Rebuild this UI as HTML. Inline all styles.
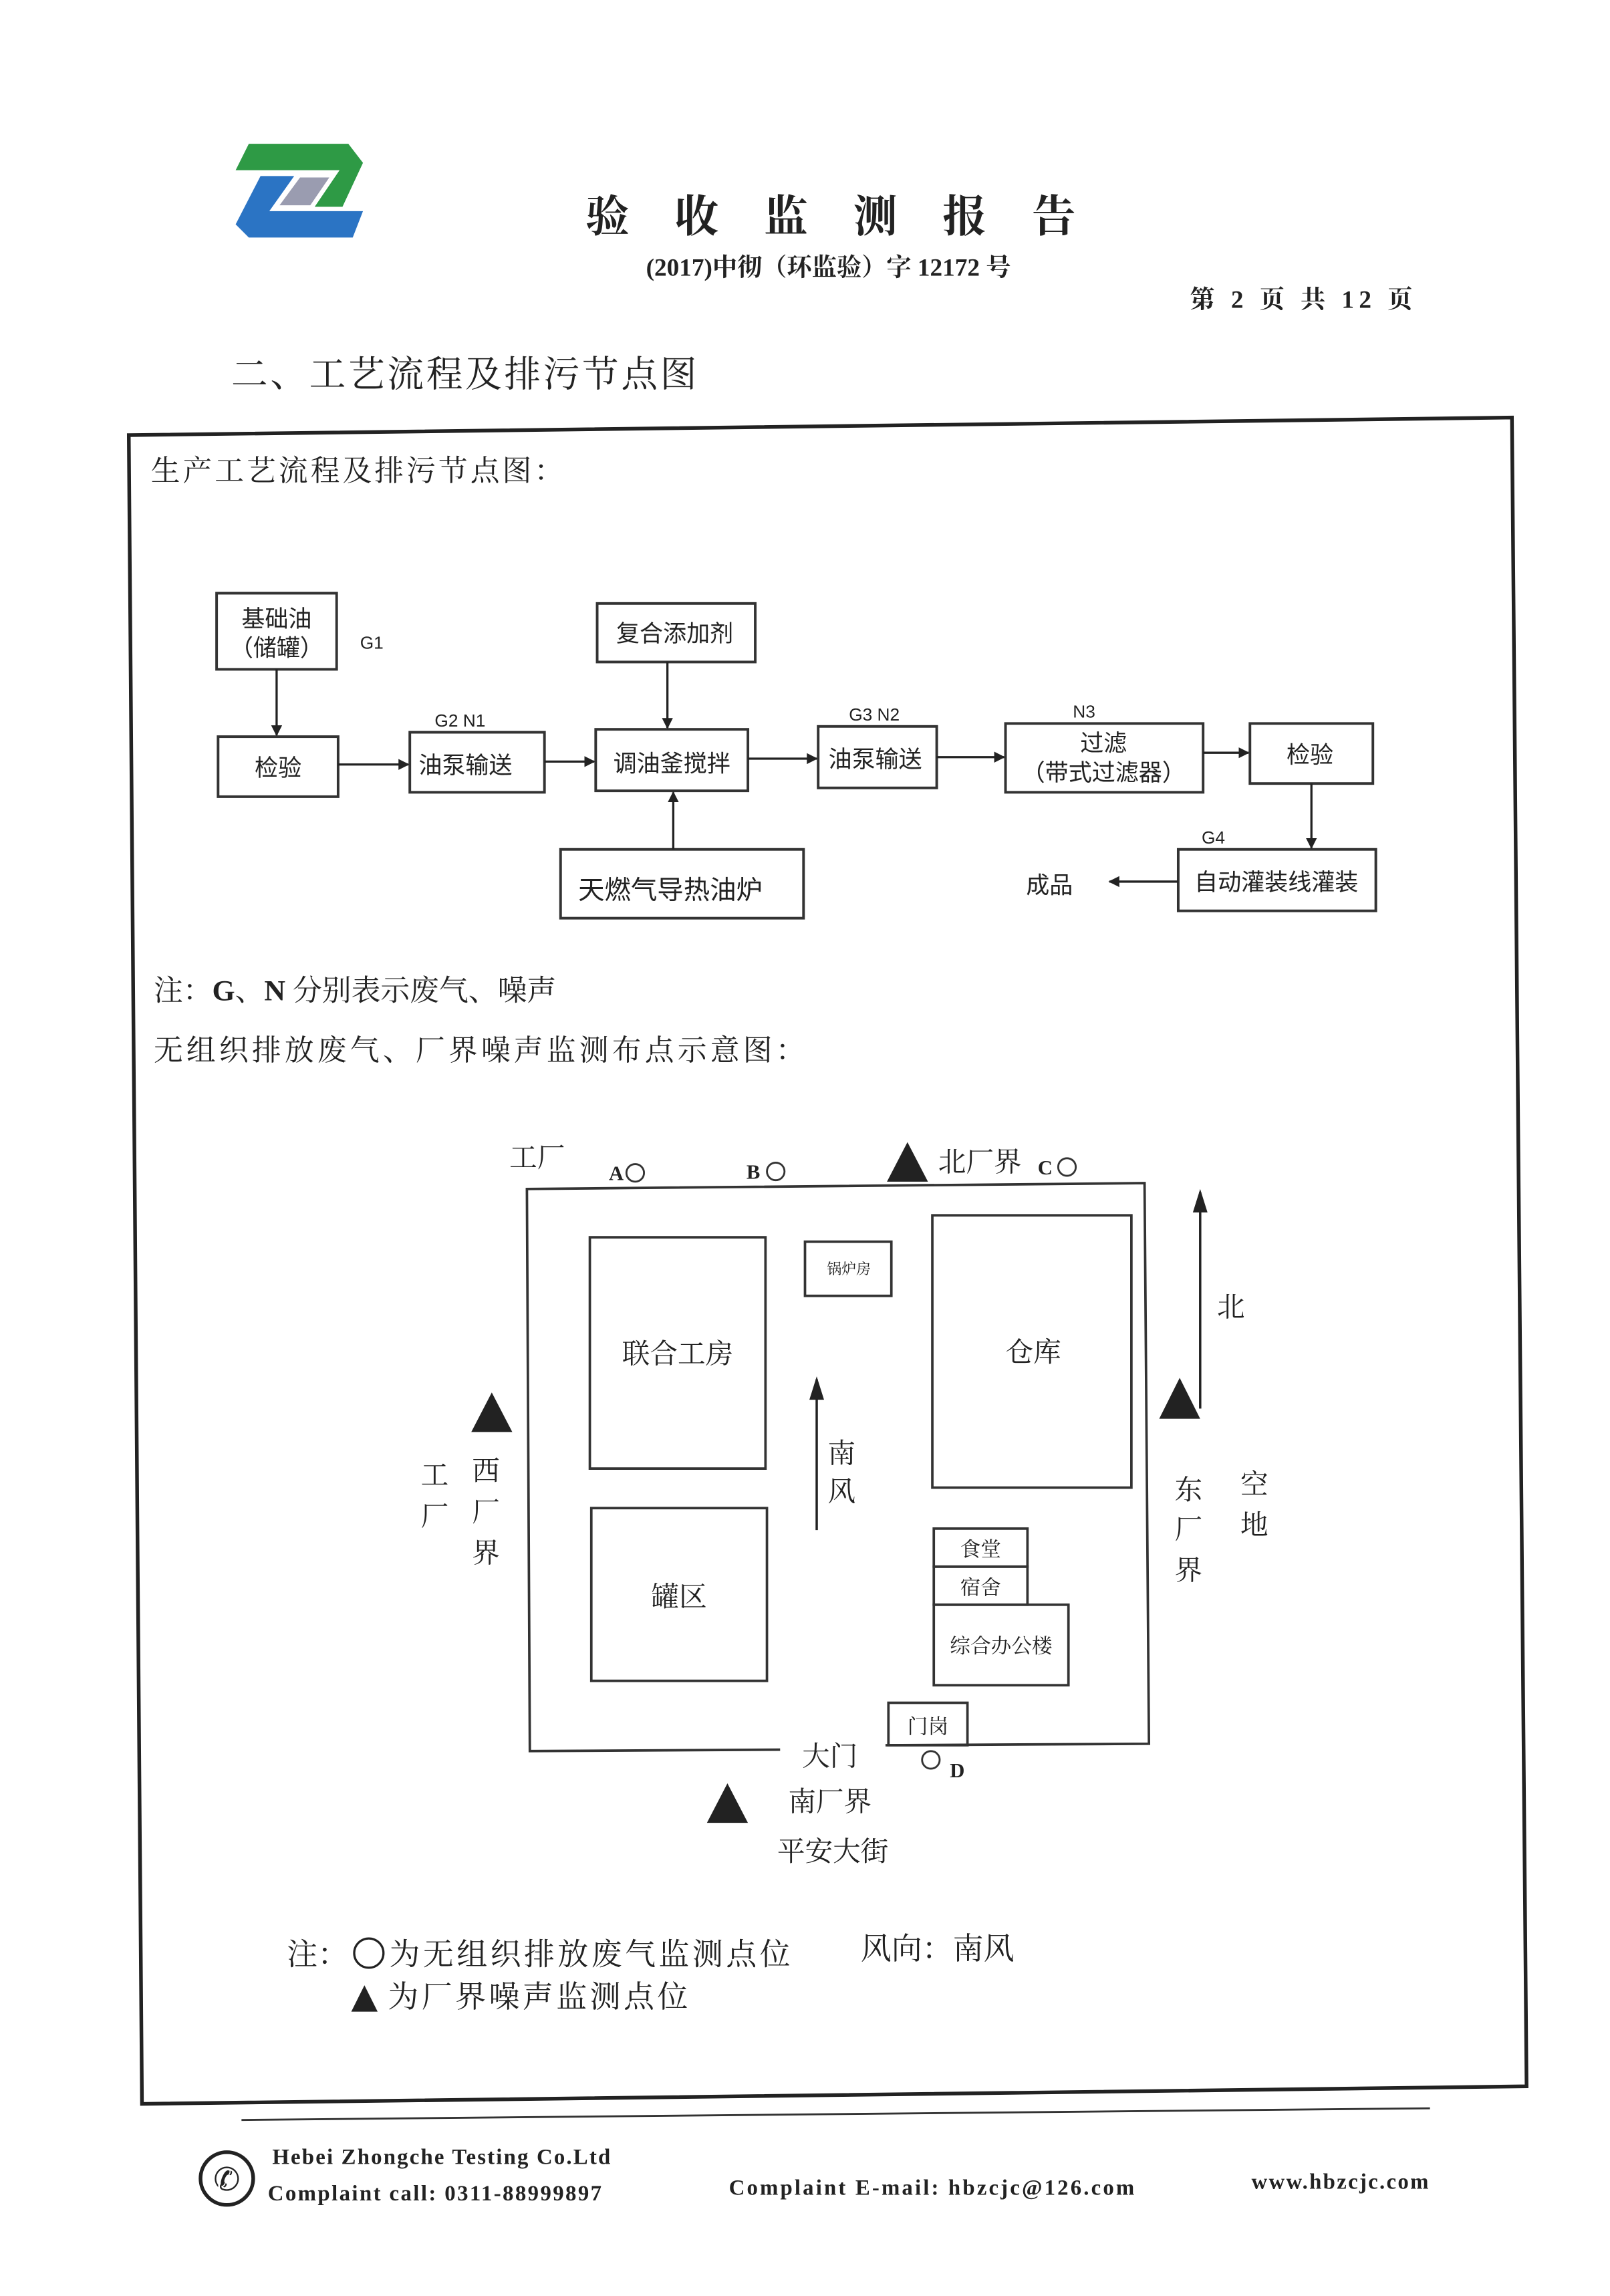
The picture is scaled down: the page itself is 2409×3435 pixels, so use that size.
<!DOCTYPE html>
<html><head><meta charset="utf-8"><style>
html,body{margin:0;padding:0;background:#fff;}
svg{display:block;}
text{font-family:"Liberation Serif","Noto Serif CJK SC","Noto Sans CJK SC",serif;fill:#222;}
.s{font-family:"Liberation Sans","Noto Sans CJK SC",sans-serif;}
</style></head><body>
<svg width="2409" height="3435" viewBox="0 0 1100 1568" xmlns="http://www.w3.org/2000/svg">
<defs>
<marker id="ah" viewBox="0 0 10 10" refX="9" refY="5" markerWidth="5" markerHeight="5" orient="auto"><path d="M0,0 L10,5 L0,10 z" fill="#222"/></marker>
</defs>
<rect width="1100" height="1568" fill="#fff"/>
<!-- logo -->
<polygon points="170,98 238,98 248,111 234,141 215,141 232,116 161,116" fill="#2e9a45"/>
<polygon points="178,120 201,120 184,144 248,144 241,162 170,162 161,153" fill="#2b74c4"/>
<polygon points="205,121 225,121 212,140 191,140" fill="#9a9cb0"/>
<!-- header -->
<text x="400" y="158" font-size="30" letter-spacing="31" font-weight="bold">验收监测报告</text>
<text x="566" y="188" font-size="17" text-anchor="middle" font-weight="bold">(2017)中彻（环监验）字 12172 号</text>
<text x="813" y="210" font-size="17" font-weight="bold" textLength="152">第 2 页  共 12 页</text>
<text x="158" y="264" font-size="25" textLength="318">二、工艺流程及排污节点图</text>
<!-- main frame -->
<polygon points="88,297 1033,285 1043,1425 97,1437" fill="none" stroke="#222" stroke-width="2.5"/>
<text x="103" y="328" font-size="20" textLength="282">生产工艺流程及排污节点图：</text>
<g fill="none" stroke="#333" stroke-width="1.8">
<rect x="148" y="405" width="82" height="52"/>
<rect x="149" y="503" width="82" height="41"/>
<rect x="280" y="500" width="92" height="41"/>
<rect x="407" y="498" width="104" height="42"/>
<rect x="408" y="412" width="108" height="40"/>
<rect x="383" y="580" width="166" height="47"/>
<rect x="559" y="496" width="81" height="42"/>
<rect x="687" y="494" width="135" height="47"/>
<rect x="854" y="494" width="84" height="41"/>
<rect x="805" y="580" width="135" height="42"/>
</g>
<g stroke="#222" stroke-width="1.5" marker-end="url(#ah)">
<line x1="189" y1="457" x2="189" y2="502"/>
<line x1="231" y1="522" x2="279" y2="522"/>
<line x1="372" y1="520" x2="406" y2="520"/>
<line x1="456" y1="452" x2="456" y2="497"/>
<line x1="460" y1="580" x2="460" y2="541"/>
<line x1="511" y1="518" x2="558" y2="518"/>
<line x1="640" y1="517" x2="686" y2="517"/>
<line x1="822" y1="514" x2="853" y2="514"/>
<line x1="896" y1="535" x2="896" y2="579"/>
<line x1="805" y1="602" x2="758" y2="602"/>
</g>
<g class="s" font-size="16">
<text class="s" x="189" y="428" text-anchor="middle">基础油</text>
<text class="s" x="189" y="448" text-anchor="middle">（储罐）</text>
<text class="s" x="190" y="530" text-anchor="middle">检验</text>
<text class="s" x="318" y="528" text-anchor="middle">油泵输送</text>
<text class="s" x="459" y="527" text-anchor="middle">调油釜搅拌</text>
<text class="s" x="461" y="438" text-anchor="middle">复合添加剂</text>
<text class="s" x="458" y="614" text-anchor="middle" font-size="18">天燃气导热油炉</text>
<text class="s" x="598" y="524" text-anchor="middle">油泵输送</text>
<text class="s" x="754" y="513" text-anchor="middle">过滤</text>
<text class="s" x="754" y="533" text-anchor="middle">（带式过滤器）</text>
<text class="s" x="895" y="521" text-anchor="middle">检验</text>
<text class="s" x="872" y="608" text-anchor="middle">自动灌装线灌装</text>
<text class="s" x="717" y="610" text-anchor="middle">成品</text>
</g>
<g font-size="12" class="s">
<text class="s" x="246" y="443">G1</text>
<text class="s" x="297" y="496">G2  N1</text>
<text class="s" x="580" y="492">G3  N2</text>
<text class="s" x="733" y="490">N3</text>
<text class="s" x="821" y="576">G4</text>
</g>
<text x="105" y="683" font-size="20">注：<tspan font-weight="bold">G</tspan>、<tspan font-weight="bold">N</tspan> 分别表示废气、噪声</text>
<text x="105" y="724" font-size="20" textLength="445">无组织排放废气、厂界噪声监测布点示意图：</text>
<!-- map -->
<g fill="none" stroke="#333" stroke-width="1.7">
<polyline points="533,1195 362,1196 360,812 782,808 785,1191 605,1192"/>
<rect x="403" y="845" width="120" height="158"/>
<rect x="550" y="848" width="59" height="37"/>
<rect x="637" y="830" width="136" height="186"/>
<rect x="404" y="1030" width="120" height="118"/>
<rect x="638" y="1044" width="64" height="26"/>
<rect x="638" y="1070" width="64" height="26"/>
<rect x="638" y="1096" width="92" height="55"/>
<rect x="607" y="1163" width="54" height="29"/>
</g>
<line x1="558" y1="1045" x2="558" y2="942" stroke="#222" stroke-width="1.6"/>
<polygon points="553,956 563,956 558,940" fill="#222"/>
<line x1="820" y1="962" x2="820" y2="814" stroke="#222" stroke-width="1.6"/>
<polygon points="815,828 825,828 820,812" fill="#222"/>
<g fill="#222">
<polygon points="606,807 634,807 620,780"/>
<polygon points="322,978 350,978 336,951"/>
<polygon points="792,969 820,969 806,941"/>
<polygon points="483,1245 511,1245 497,1218"/>
</g>
<g font-size="19">
<text x="463" y="931" text-anchor="middle">联合工房</text>
<text x="706" y="930" text-anchor="middle">仓库</text>
<text x="464" y="1097" text-anchor="middle">罐区</text>
<text x="580" y="870" text-anchor="middle" font-size="10">锅炉房</text>
<text x="670" y="1063" text-anchor="middle" font-size="14">食堂</text>
<text x="670" y="1089" text-anchor="middle" font-size="14">宿舍</text>
<text x="684" y="1129" text-anchor="middle" font-size="14">综合办公楼</text>
<text x="634" y="1184" text-anchor="middle" font-size="14">门岗</text>
<text x="575" y="999" text-anchor="middle">南</text>
<text x="575" y="1025" text-anchor="middle">风</text>
<text x="841" y="899" text-anchor="middle">北</text>
<text x="348" y="797">工厂</text>
<text x="641" y="800">北厂界</text>
<text x="297" y="1014" text-anchor="middle">工</text>
<text x="297" y="1042" text-anchor="middle">厂</text>
<text x="332" y="1011" text-anchor="middle">西</text>
<text x="332" y="1039" text-anchor="middle">厂</text>
<text x="332" y="1067" text-anchor="middle">界</text>
<text x="812" y="1024" text-anchor="middle">东</text>
<text x="812" y="1051" text-anchor="middle">厂</text>
<text x="812" y="1079" text-anchor="middle">界</text>
<text x="857" y="1020" text-anchor="middle">空</text>
<text x="857" y="1048" text-anchor="middle">地</text>
<text x="567" y="1206" text-anchor="middle">大门</text>
<text x="567" y="1237" text-anchor="middle">南厂界</text>
<text x="569" y="1271" text-anchor="middle">平安大街</text>
</g>
<g font-size="14" font-weight="bold">
<text x="416" y="806">A</text>
<text x="510" y="805">B</text>
<text x="709" y="802">C</text>
<text x="649" y="1214">D</text>
</g>
<g fill="none" stroke="#333" stroke-width="1.3">
<circle cx="434" cy="801" r="6"/>
<circle cx="530" cy="800" r="6"/>
<circle cx="729" cy="797" r="6"/>
<circle cx="636" cy="1202" r="6"/>
</g>
<!-- map note -->
<text x="196" y="1342" font-size="21">注：</text>
<circle cx="252" cy="1334" r="10" fill="none" stroke="#222" stroke-width="1.5"/>
<text x="266" y="1342" font-size="21" textLength="274">为无组织排放废气监测点位</text>
<text x="588" y="1338" font-size="21">风向：南风</text>
<polygon points="240,1374 258,1374 249,1356" fill="#222"/>
<text x="265" y="1371" font-size="21" textLength="205">为厂界噪声监测点位</text>
<!-- footer -->
<line x1="165" y1="1448" x2="977" y2="1440" stroke="#333" stroke-width="1.3"/>
<circle cx="155" cy="1488" r="18" fill="none" stroke="#222" stroke-width="2.5"/>
<text x="155" y="1496" font-size="22" text-anchor="middle">✆</text>
<g font-size="15" font-weight="bold" fill="#444">
<text x="186" y="1478" textLength="231">Hebei Zhongche Testing Co.Ltd</text>
<text x="183" y="1503" textLength="228">Complaint call:  0311-88999897</text>
<text x="498" y="1499" textLength="277">Complaint E-mail:   hbzcjc@126.com</text>
<text x="855" y="1495" textLength="121">www.hbzcjc.com</text>
</g>
</svg>
</body></html>
